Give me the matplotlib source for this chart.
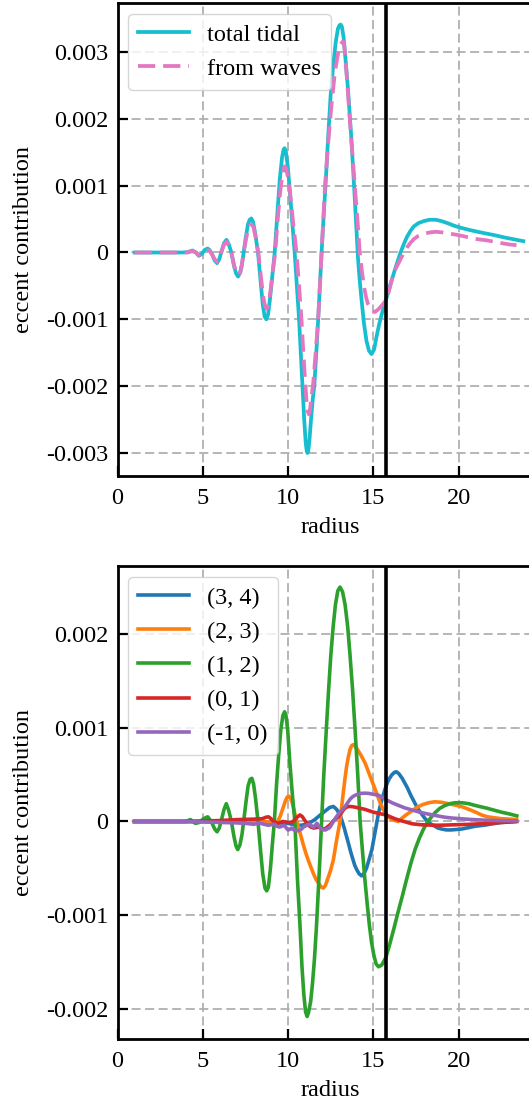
import numpy as np
import matplotlib
matplotlib.use("Agg")
import matplotlib.pyplot as plt
from matplotlib.ticker import FuncFormatter

plt.rcParams['font.family'] = ['Liberation Serif', 'DejaVu Serif']
plt.rcParams['axes.unicode_minus'] = False

SCALE = 1e-3
R_MARK = 15.75

# ---------------- top panel data (values in units of 1e-3) ----------------
r_total = [1.0, 2.0, 3.0, 3.8, 4.1, 4.4, 4.6, 4.77, 4.95, 5.12, 5.29, 5.42, 5.55, 5.7, 5.84, 5.97,
           6.1, 6.25, 6.39, 6.53, 6.68, 6.83, 6.95, 7.07, 7.2, 7.3, 7.4, 7.52, 7.65, 7.75, 7.85,
           7.95, 8.08, 8.24, 8.4, 8.52, 8.63, 8.73, 8.83, 8.95, 9.08, 9.22, 9.38, 9.52, 9.65,
           9.74, 9.8, 9.87, 9.98, 10.1, 10.25, 10.39, 10.52, 10.65, 10.75, 10.85, 10.95, 11.04,
           11.1, 11.14, 11.19, 11.26, 11.35, 11.45, 11.54, 11.66, 11.77, 11.87, 11.97, 12.08,
           12.2, 12.36, 12.5, 12.65, 12.8, 12.93, 13.02, 13.09, 13.16, 13.26, 13.37, 13.52,
           13.72, 13.92, 14.11, 14.2, 14.31, 14.45, 14.6, 14.75, 14.9, 15.05, 15.2, 15.35,
           15.5, 15.65, 15.79, 16.0, 16.28, 16.6, 16.8, 16.99, 17.2, 17.38, 17.65, 17.97, 18.3,
           18.66, 19.0, 19.35, 19.75, 20.14, 20.6, 21.12, 21.6, 22.1, 22.7, 23.39, 23.8]
v_total = [0.0, 0.0, 0.0, 0.0, 0.005, 0.03, 0.0, -0.05, -0.02, 0.04, 0.06, 0.03, -0.03, -0.12, -0.16, -0.1,
           0.02, 0.14, 0.19, 0.12, 0.0, -0.2, -0.31, -0.36, -0.3, -0.18, 0.0, 0.22, 0.42, 0.49, 0.51,
           0.46, 0.28, 0.0, -0.45, -0.78, -0.96, -1.0, -0.93, -0.68, -0.35, 0.0, 0.6, 1.1, 1.42,
           1.54, 1.56, 1.52, 1.3, 0.95, 0.45, 0.0, -0.5, -1.0, -1.5, -2.0, -2.5, -2.85,
           -2.97, -3.0, -2.97, -2.8, -2.5, -2.2, -2.0, -1.5, -1.0, -0.5, 0.0, 0.5,
           1.0, 1.75, 2.35, 2.8, 3.15, 3.35, 3.4, 3.41, 3.38, 3.22, 2.9, 2.44,
           1.69, 0.79, -0.1, -0.4, -0.7, -1.05, -1.32, -1.47, -1.52, -1.45, -1.25, -1.07,
           -0.92, -0.79, -0.67, -0.48, -0.25, 0.0, 0.13, 0.24, 0.33, 0.39, 0.44, 0.47, 0.49,
           0.49, 0.47, 0.44, 0.4, 0.37, 0.34, 0.31, 0.285, 0.26, 0.225, 0.19, 0.17]

r_waves = [1.0, 2.0, 3.0, 3.8, 4.1, 4.4, 4.6, 4.77, 4.95, 5.12, 5.29, 5.42, 5.55, 5.7, 5.84, 5.97,
           6.1, 6.25, 6.39, 6.53, 6.68, 6.83, 6.95, 7.07, 7.2, 7.3, 7.4, 7.53, 7.66, 7.77, 7.87,
           7.97, 8.1, 8.26, 8.42, 8.54, 8.65, 8.75, 8.85, 8.97, 9.1, 9.25, 9.4, 9.54, 9.67, 9.76,
           9.82, 9.89, 10.0, 10.12, 10.3, 10.5, 10.65, 10.79, 10.9, 11.0, 11.08, 11.15, 11.22,
           11.28, 11.36, 11.48, 11.62, 11.77, 11.87, 11.97, 12.07, 12.17, 12.36, 12.55, 12.75,
           12.95, 13.1, 13.23, 13.3, 13.37, 13.5, 13.62, 13.77, 13.92, 14.07, 14.21, 14.33, 14.45,
           14.58, 14.7, 14.9, 15.1, 15.3, 15.55, 15.79, 15.95, 16.1, 16.3, 16.6, 16.8, 16.99,
           17.2, 17.38, 17.65, 17.97, 18.3, 18.66, 19.1, 19.55, 20.0, 20.53, 21.1, 21.71, 22.3,
           22.99, 23.4]
v_waves = [0.0, 0.0, 0.0, 0.0, 0.0, 0.02, 0.0, -0.04, -0.02, 0.02, 0.035, 0.02, -0.03, -0.1, -0.14, -0.09,
           0.01, 0.12, 0.16, 0.1, 0.0, -0.18, -0.29, -0.34, -0.29, -0.17, 0.0, 0.19, 0.35, 0.41, 0.42,
           0.38, 0.23, 0.0, -0.38, -0.65, -0.8, -0.84, -0.79, -0.58, -0.3, 0.0, 0.5, 0.9, 1.17, 1.27,
           1.29, 1.26, 1.12, 0.9, 0.45, 0.0, -0.5, -1.0, -1.5, -1.9, -2.2, -2.37, -2.42,
           -2.37, -2.2, -1.95, -1.5, -1.0, -0.5, 0.0, 0.5, 1.0, 1.65, 2.2, 2.7,
           3.0, 3.12, 3.16, 3.1, 2.9, 2.45, 2.0, 1.5, 1.0, 0.5, 0.0, -0.27, -0.5,
           -0.67, -0.78, -0.87, -0.89, -0.85, -0.78, -0.7, -0.55, -0.4, -0.25, -0.1, 0.0, 0.08,
           0.15, 0.2, 0.25, 0.28, 0.3, 0.31, 0.3, 0.28, 0.26, 0.23, 0.2, 0.18, 0.15,
           0.12, 0.11]

# ---------------- bottom panel data (values in units of 1e-3) ----------------
r_m34 = [1.0, 8.0, 9.0, 10.0, 10.5, 10.79, 11.0, 11.2, 11.4, 11.57, 11.9, 12.17, 12.45, 12.66, 12.85,
         13.05, 13.18, 13.3, 13.42, 13.54, 13.67, 13.8, 13.92, 14.05, 14.18, 14.33, 14.47, 14.6,
         14.75, 14.92, 15.02, 15.12, 15.22, 15.31, 15.4, 15.5, 15.6, 15.68, 15.82, 15.95, 16.1,
         16.25, 16.36, 16.5, 16.7, 16.85, 17.0, 17.2, 17.43, 17.6, 17.8, 18.0, 18.2, 18.4, 18.6,
         18.8, 19.0, 19.3, 19.57, 19.9, 20.2, 20.6, 21.0, 21.5, 22.0, 22.5, 23.0, 23.4]
v_m34 = [0.0, 0.0, -0.01, -0.02, -0.04, -0.04, -0.03, -0.02, 0.0, 0.02, 0.07, 0.11, 0.15, 0.16, 0.13,
         0.07, 0.0, -0.07, -0.15, -0.23, -0.32, -0.4, -0.47, -0.52, -0.56, -0.58, -0.55, -0.5,
         -0.41, -0.3, -0.2, -0.1, 0.0, 0.09, 0.16, 0.23, 0.29, 0.34, 0.41, 0.46, 0.5,
         0.525, 0.53, 0.51, 0.46, 0.41, 0.36, 0.28, 0.2, 0.14, 0.09, 0.04, 0.0, -0.03, -0.05,
         -0.07, -0.08, -0.09, -0.09, -0.085, -0.08, -0.065, -0.05, -0.04, -0.025, -0.01, -0.005, 0.0]

r_m23 = [1.0, 8.0, 8.5, 9.0, 9.4, 9.55, 9.7, 9.85, 9.95, 10.04, 10.14, 10.25, 10.35, 10.45, 10.59,
         10.75, 10.9, 11.05, 11.18, 11.35, 11.5, 11.65, 11.8, 11.95, 12.07, 12.2, 12.35, 12.5,
         12.66, 12.85, 13.05, 13.15, 13.25, 13.35, 13.44, 13.54, 13.64, 13.74, 13.84, 13.95, 14.1,
         14.3, 14.53, 14.8, 15.12, 15.4, 15.6, 15.78, 16.1, 16.46, 16.65, 16.85, 17.24, 17.55,
         17.9, 18.25, 18.6, 19.0, 19.4, 19.8, 20.16, 20.6, 21.0, 21.35, 21.7, 22.1, 22.5, 23.0, 23.4]
v_m23 = [0.0, 0.0, 0.0, -0.01, 0.0, 0.06, 0.14, 0.22, 0.26, 0.27, 0.25, 0.2, 0.12, 0.05, -0.05,
         -0.15, -0.25, -0.34, -0.41, -0.49, -0.56, -0.62, -0.66, -0.7, -0.71, -0.68, -0.6, -0.52,
         -0.41, -0.2, 0.0, 0.16, 0.32, 0.47, 0.59, 0.69, 0.77, 0.81, 0.82, 0.8, 0.76,
         0.7, 0.62, 0.49, 0.34, 0.2, 0.12, 0.07, 0.02, 0.0, 0.03, 0.06, 0.11, 0.15,
         0.18, 0.2, 0.21, 0.205, 0.19, 0.175, 0.16, 0.13, 0.1, 0.07, 0.05, 0.04, 0.03, 0.025, 0.02]

r_m12 = [1.0, 3.0, 4.0, 4.28, 4.57, 4.8, 5.05, 5.29, 5.42, 5.55, 5.7, 5.84, 5.97, 6.1, 6.25, 6.38,
         6.52, 6.68, 6.83, 6.95, 7.05, 7.18, 7.3, 7.4, 7.53, 7.66, 7.78, 7.88, 7.98, 8.1, 8.24,
         8.4, 8.52, 8.65, 8.75, 8.85, 8.97, 9.08, 9.2, 9.33, 9.45, 9.58, 9.7, 9.8, 9.88, 9.98,
         10.1, 10.25, 10.4, 10.55, 10.7, 10.82, 10.93, 11.03, 11.12, 11.2, 11.33, 11.44, 11.55,
         11.66, 11.76, 11.87, 11.97, 12.1, 12.24, 12.38, 12.51, 12.65, 12.78, 12.92, 13.05, 13.2,
         13.35, 13.5, 13.64, 13.79, 13.94, 14.09, 14.23, 14.37, 14.5, 14.64, 14.77, 14.9, 15.04,
         15.17, 15.31, 15.5, 15.74, 15.95, 16.2, 16.45, 16.7, 16.95, 17.2, 17.45, 17.7, 17.95,
         18.2, 18.6, 18.9, 19.2, 19.5, 19.8, 20.2, 20.6, 21.0, 21.35, 21.7, 22.1, 22.5, 23.0, 23.42]
v_m12 = [0.0, 0.0, 0.0, 0.02, -0.02, -0.01, 0.03, 0.05, 0.02, -0.02, -0.08, -0.11, -0.07, 0.02, 0.13, 0.19,
         0.12, 0.0, -0.16, -0.26, -0.3, -0.25, -0.14, 0.0, 0.2, 0.38, 0.45, 0.46, 0.4, 0.24, 0.0,
         -0.33, -0.56, -0.71, -0.74, -0.7, -0.5, -0.25, 0.0, 0.4, 0.7, 0.98, 1.13, 1.17, 1.13, 0.98,
         0.65, 0.3, 0.0, -0.6, -1.1, -1.55, -1.85, -2.03, -2.08, -2.04, -1.92, -1.72, -1.47,
         -1.15, -0.8, -0.4, 0.0, 0.5, 0.96, 1.4, 1.77, 2.08, 2.31, 2.46, 2.5, 2.45,
         2.31, 2.08, 1.77, 1.4, 0.96, 0.5, 0.0, -0.32, -0.6, -0.87, -1.1, -1.29, -1.43,
         -1.52, -1.55, -1.53, -1.45, -1.32, -1.15, -0.97, -0.8, -0.62, -0.45, -0.3, -0.18, -0.08,
         0.0, 0.09, 0.14, 0.17, 0.19, 0.2, 0.2, 0.19, 0.17, 0.155, 0.14, 0.12, 0.1, 0.08, 0.06]

r_m01 = [1.0, 4.0, 5.0, 6.0, 7.0, 8.0, 8.5, 8.7, 8.85, 9.0, 9.1, 9.25, 9.4, 9.55, 9.7, 9.85, 10.0,
         10.15, 10.3, 10.5, 10.7, 10.85, 10.95, 11.08, 11.2, 11.35, 11.5, 11.65, 11.8, 11.95, 12.07,
         12.2, 12.3, 12.4, 12.5, 12.62, 12.75, 12.85, 12.95, 13.08, 13.2, 13.3, 13.4, 13.52, 13.65,
         13.82, 14.0, 14.25, 14.5, 14.75, 15.0, 15.35, 15.74, 16.0, 16.26, 16.5, 16.8, 17.05, 17.3,
         17.55, 17.82, 18.3, 18.8, 19.3, 19.77, 20.2, 20.7, 21.2, 21.7, 22.15, 22.6, 23.0, 23.4]
v_m01 = [0.0, 0.0, 0.005, 0.01, 0.02, 0.025, 0.03, 0.045, 0.05, 0.03, 0.01, -0.01, -0.02, -0.01, 0.0, -0.005, -0.01,
         -0.01, 0.0, 0.04, 0.07, 0.05, 0.02, -0.01, -0.04, -0.06, -0.07, -0.065, -0.06, -0.075, -0.08,
         -0.075, -0.06, -0.045, -0.03, 0.0, 0.02, 0.035, 0.05, 0.08, 0.11, 0.135, 0.15, 0.158, 0.16,
         0.157, 0.15, 0.14, 0.13, 0.115, 0.1, 0.085, 0.07, 0.05, 0.03, 0.015, 0.0, -0.013, -0.025,
         -0.03, -0.035, -0.038, -0.04, -0.038, -0.035, -0.033, -0.03, -0.025, -0.02, -0.015, -0.01, -0.005, 0.0]

r_mm10 = [1.0, 4.0, 5.0, 6.0, 7.0, 7.5, 8.0, 8.2, 8.4, 8.6, 8.84, 9.0, 9.2, 9.35, 9.5, 9.65, 9.8, 9.9,
          10.0, 10.1, 10.2, 10.35, 10.5, 10.65, 10.8, 10.9, 11.0, 11.15, 11.3, 11.4, 11.5, 11.6, 11.7,
          11.8, 11.9, 12.0, 12.1, 12.2, 12.3, 12.4, 12.5, 12.63, 12.76, 12.88, 13.0, 13.18, 13.35,
          13.5, 13.65, 13.8, 13.94, 14.1, 14.3, 14.5, 14.72, 15.0, 15.31, 15.55, 15.78, 16.1, 16.5,
          16.85, 17.24, 17.7, 18.2, 18.7, 19.18, 19.6, 20.1, 20.6, 21.1, 21.7, 22.3, 22.9, 23.4]
v_mm10 = [0.0, 0.0, -0.005, -0.01, -0.015, -0.02, -0.03, -0.02, -0.02, -0.03, -0.04, -0.035, -0.03, -0.05, -0.06, -0.05, -0.04, -0.07,
          -0.09, -0.085, -0.07, -0.09, -0.1, -0.095, -0.08, -0.06, -0.05, -0.035, -0.03, -0.05, -0.06, -0.04, -0.02,
          -0.05, -0.07, -0.085, -0.09, -0.09, -0.08, -0.07, -0.05, -0.01, 0.03, 0.06, 0.09, 0.125, 0.16,
          0.2, 0.24, 0.265, 0.28, 0.29, 0.3, 0.302, 0.3, 0.29, 0.28, 0.255, 0.23, 0.2, 0.17,
          0.145, 0.125, 0.1, 0.08, 0.062, 0.046, 0.037, 0.03, 0.023, 0.018, 0.013, 0.01, 0.008, 0.007]

top_series = [("total tidal", r_total, v_total, "#17becf", "-"),
              ("from waves", r_waves, v_waves, "#e377c2", (0, (4.6, 2.1)))]
bottom_series = [("(3, 4)", r_m34, v_m34, "#1f77b4"),
                 ("(2, 3)", r_m23, v_m23, "#ff7f0e"),
                 ("(1, 2)", r_m12, v_m12, "#2ca02c"),
                 ("(0, 1)", r_m01, v_m01, "#d62728"),
                 ("(-1, 0)", r_mm10, v_mm10, "#9467bd")]
top_yticks = [-3, -2, -1, 0, 1, 2, 3]
bottom_yticks = [-2, -1, 0, 1, 2]
xticks = [0, 5, 10, 15, 20]

W, H = 529, 1103
fig = plt.figure(figsize=(W / 100, H / 100), dpi=100)
FS = 17.5

def fmt(v, _):
    k = int(round(v / SCALE))
    if k == 0:
        return '0'
    return '%g' % (k * 0.001)

def style(ax, yticks, ylim):
    ax.set_xlim(0, 25)
    ax.set_ylim(*ylim)
    ax.set_xticks(xticks)
    ax.set_yticks([t * SCALE for t in yticks])
    ax.yaxis.set_major_formatter(FuncFormatter(fmt))
    ax.tick_params(direction='in', length=7, width=1.6, labelsize=FS)
    ax.tick_params(axis='x', pad=8.5)
    ax.tick_params(axis='y', pad=6.5)
    for s in ax.spines.values():
        s.set_linewidth(2.0)
    ax.grid(True, color='#b0b0b0', linestyle=(0, (5, 2.5)), linewidth=1.3)
    ax.set_axisbelow(True)
    ax.set_xlabel('radius', fontsize=FS, labelpad=6)
    ax.set_ylabel('eccent contribution', fontsize=FS, labelpad=9)
    ax.axvline(R_MARK, color='k', linewidth=2.6, zorder=5)

x0 = 117.5 / W
wid = 25 * 17.05 / W
ax1 = fig.add_axes([x0, 1 - 476 / H, wid, (476 - 3) / H])
ax2 = fig.add_axes([x0, 1 - 1039 / H, wid, (1039 - 566) / H])

leg_kw = dict(loc='upper left', fontsize=FS, handlelength=2.1, borderaxespad=0.45,
              labelspacing=0.5, handletextpad=0.75, fancybox=True)

for lab, r, v, c, ls in top_series:
    ax1.plot(r, np.array(v) * SCALE, color=c, linestyle=ls, linewidth=2.7, label=lab)
style(ax1, top_yticks, (-3.344e-3, 3.733e-3))
ax1.legend(**leg_kw)

for lab, r, v, c in bottom_series:
    ax2.plot(r, np.array(v) * SCALE, color=c, linewidth=2.6, label=lab)
style(ax2, bottom_yticks, (-2.32e-3, 2.725e-3))
ax2.legend(**leg_kw)

fig.savefig('out.png', dpi=100)
